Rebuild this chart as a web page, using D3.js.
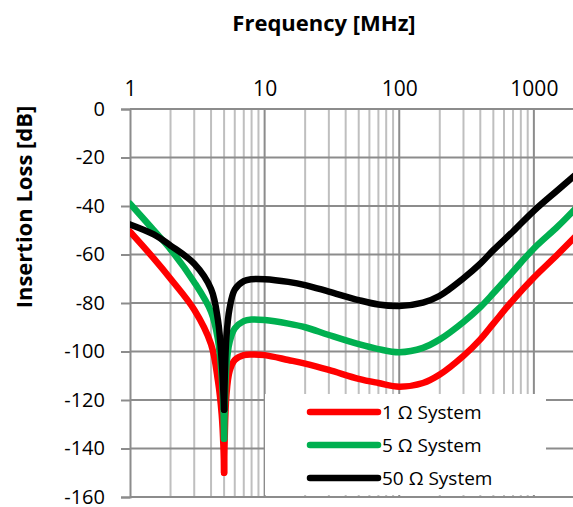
<!DOCTYPE html>
<html><head><meta charset="utf-8">
<script src="https://cdn.jsdelivr.net/npm/d3@7"></script>
<style>
html,body{margin:0;padding:0;background:#fff;}
svg{display:block;}
text{font-family:"Open Sans",sans-serif;fill:#000;}
</style></head>
<body>
<svg id="chart" width="573" height="507"></svg>
<script>
// ---- data ----
const freqs = [1,1.5,2,3,4,4.5,4.8,4.95,5.0,5.05,5.2,5.5,6,7,8,10,15,20,30,50,70,100,150,200,300,400,500,700,1000,1500,2000];
const sys1  = [-50.6,-61.6,-70,-82.8,-97,-112,-126,-140,-150,-136,-118,-108,-103.5,-101.5,-101.2,-101.5,-103.5,-105,-107.6,-111.3,-113,-114.5,-113,-109.5,-101.8,-95,-88.5,-78.8,-69.5,-60,-53];
const sys5  = [-39,-50,-57.9,-71.4,-83.6,-95,-110,-125,-136,-124,-106,-96,-90.5,-87.5,-86.8,-87,-88.5,-90,-93.2,-97,-99,-100.3,-98.5,-95,-87.8,-81.7,-76,-67,-57.5,-48.5,-41.5];
const sys50 = [-47.6,-51.7,-56.3,-63.8,-74.2,-87,-104,-118,-124,-112,-94,-82,-74.5,-71,-70.2,-70.2,-71.3,-72.6,-75.3,-78.8,-80.6,-81.2,-79.8,-77,-69.8,-63.8,-58.2,-50.5,-42,-33.5,-27.5];
const seriesNames = ["1 \u03A9 System","5 \u03A9 System","50 \u03A9 System"];
const seriesColors = ["#FF0000","#00B050","#000000"];
const xTickLabels = [1,10,100,1000];
const yTickLabels = [0,-20,-40,-60,-80,-100,-120,-140,-160];

// ---- layout ----
const svg = d3.select("#chart");
const L = 130, R = 574.4, T = 109, B = 497;
const x = d3.scaleLog().domain([1,2000]).range([L,R]);
const y = d3.scaleLinear().domain([0,-160]).range([T,B]);

// minor vertical gridlines
const minor = [];
for (let d=1; d<=1000; d*=10) for (let k=2;k<=9;k++) if (d*k<=2000) minor.push(d*k);
svg.append("g").selectAll("line").data(minor).join("line")
  .attr("x1",d=>x(d)).attr("x2",d=>x(d)).attr("y1",T).attr("y2",B)
  .attr("stroke","#BFBFBF").attr("stroke-width",2);
// major vertical gridlines
svg.append("g").selectAll("line").data(xTickLabels.slice(1)).join("line")
  .attr("x1",d=>x(d)).attr("x2",d=>x(d)).attr("y1",T).attr("y2",B)
  .attr("stroke","#8C8C8C").attr("stroke-width",2);
// horizontal gridlines
svg.append("g").selectAll("line").data(yTickLabels).join("line")
  .attr("x1",L).attr("x2",573).attr("y1",d=>y(d)).attr("y2",d=>y(d))
  .attr("stroke","#8C8C8C").attr("stroke-width",2);

// y axis
const yAxis = svg.append("g").attr("transform",`translate(${L},0)`)
  .call(d3.axisLeft(y).tickValues(yTickLabels).tickSize(9).tickPadding(16).tickFormat(d=>d));
yAxis.select(".domain").attr("stroke","#8C8C8C").attr("stroke-width",2);
yAxis.selectAll(".tick line").attr("stroke","#8C8C8C").attr("stroke-width",2);
yAxis.selectAll("text").attr("font-size",20).attr("font-family","Open Sans").attr("fill","#000").attr("dy","0.3em");

// x axis (top)
const xAxis = svg.append("g").attr("transform",`translate(0,${T})`)
  .call(d3.axisTop(x).tickValues(xTickLabels).tickSize(0).tickPadding(13).tickFormat(d=>d));
xAxis.select(".domain").remove();
xAxis.selectAll("text").attr("font-size",21).attr("font-family","Open Sans").attr("fill","#000");

// top border line
svg.append("line").attr("x1",L).attr("x2",573).attr("y1",T).attr("y2",T)
  .attr("stroke","#8C8C8C").attr("stroke-width",2);

// series: drawn as two branches meeting at the resonance minimum
const data = [sys1, sys5, sys50];
const line = d3.line().x(d=>x(d[0])).y(d=>y(d[1])).curve(d3.curveCatmullRom.alpha(0.5));
svg.append("defs").append("clipPath").attr("id","clip").append("rect")
  .attr("x",L).attr("y",T).attr("width",R-L).attr("height",B-T);
const gS = svg.append("g").attr("clip-path","url(#clip)");
data.forEach((vals,si)=>{
  const pts = freqs.map((f,i)=>[f,vals[i]]);
  const iMin = d3.minIndex(vals);
  [pts.slice(0,iMin+1), pts.slice(iMin)].forEach(seg=>{
    gS.append("path").attr("d",line(seg)).attr("fill","none")
      .attr("stroke",seriesColors[si]).attr("stroke-width",6.5)
      .attr("stroke-linecap","round").attr("stroke-linejoin","round");
  });
});

// legend
const lg = svg.append("g");
lg.append("rect").attr("x",265).attr("y",394).attr("width",281).attr("height",101).attr("fill","#fff");
seriesNames.forEach((n,i)=>{
  const yy = 412 + i*33;
  lg.append("line").attr("x1",310).attr("x2",378).attr("y1",yy).attr("y2",yy)
    .attr("stroke",seriesColors[i]).attr("stroke-width",6.5).attr("stroke-linecap","round");
  lg.append("text").attr("x",382).attr("y",yy).attr("dy","0.36em")
    .attr("font-size",19).text(n);
});

// titles
svg.append("text").attr("x",324).attr("y",31).attr("text-anchor","middle")
  .attr("font-size",22).attr("font-weight","bold").text("Frequency [MHz]");
svg.append("text").attr("transform","translate(32,207) rotate(-90)").attr("text-anchor","middle")
  .attr("font-size",22).attr("font-weight","bold").text("Insertion Loss [dB]");
</script>
</body></html>
